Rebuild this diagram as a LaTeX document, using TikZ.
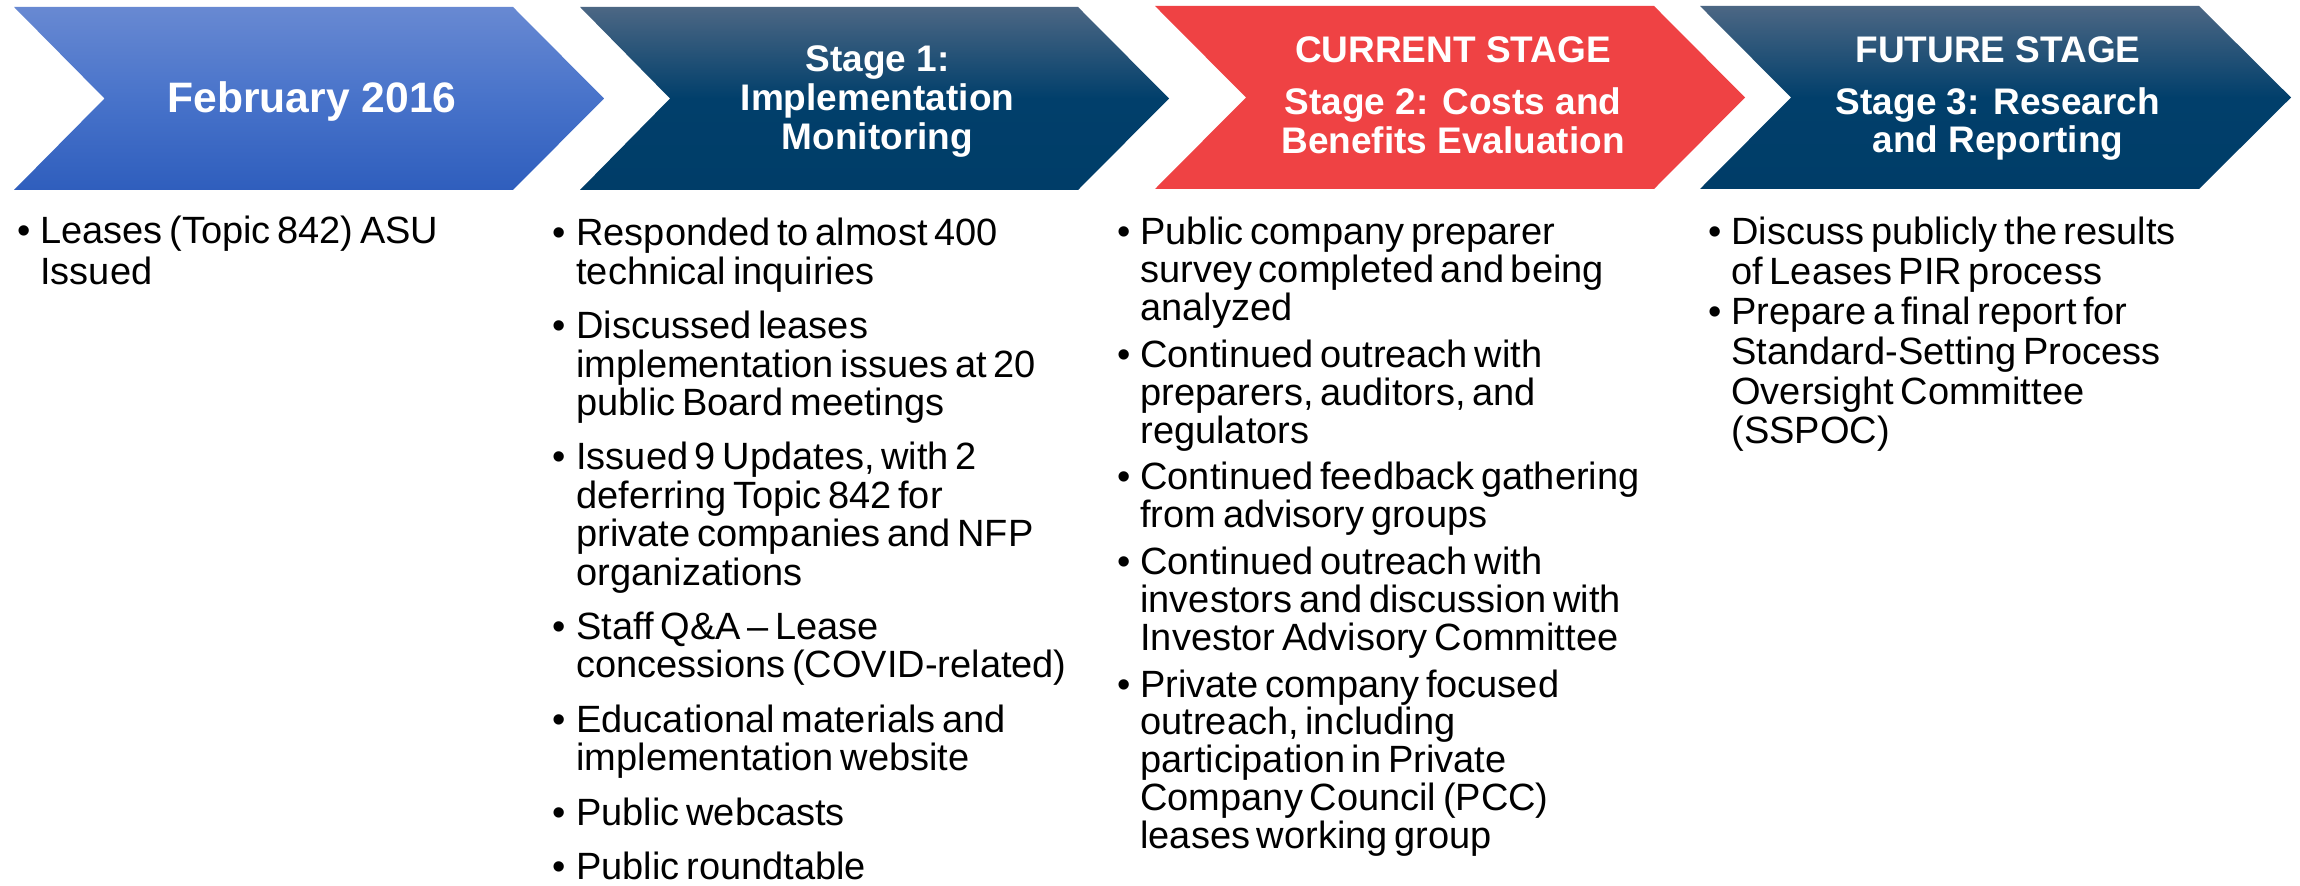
\documentclass[tikz,border=0pt]{standalone}
\usepackage{fontspec}
\setmainfont{Liberation Sans}
\definecolor{blueTop}{HTML}{6889D2}
\definecolor{blueMid}{HTML}{4873CA}
\definecolor{blueBot}{HTML}{2F5EBD}
\definecolor{navyTop}{HTML}{4C6784}
\definecolor{navyMid}{HTML}{013F6B}
\definecolor{navyBot}{HTML}{003D68}
\definecolor{stageRed}{HTML}{EF4244}
\newlength\bind
\newcommand\bfirst[1]{\hangindent=\bind\hangafter=1\noindent\hbox to\bind{\textbullet\hfil}#1}
\newcommand\bitem[1]{\par\bfirst{#1}}
\tikzset{
  bluechev/.style={top color=blueTop, bottom color=blueBot, middle color=blueMid},
  navychev/.style={top color=navyTop, bottom color=navyBot, middle color=navyMid},
  redchev/.style={fill=stageRed},
  head/.style={anchor=base, text=white, inner sep=0pt, font=\bfseries\fontsize{18.5}{22}\selectfont},
  bigHead/.style={head, font=\bfseries\fontsize{21.3}{25}\selectfont},
  col/.style={anchor=base west, inner sep=0pt, text width=#1, align=left},
}
\begin{document}
\begin{tikzpicture}[x=0.5pt,y=-0.5pt]
\useasboundingbox (0,0) rectangle (2300,886);
\fill[white] (0,0) rectangle (2300,886);
% chevrons
\shade[bluechev] (14,7) -- (513,7) -- (604,98.5) -- (513,190) -- (14,190) -- (104.5,98.5) -- cycle;
\shade[navychev] (580,7) -- (1078,7) -- (1169,98.5) -- (1078,190) -- (580,190) -- (670,98.5) -- cycle;
\fill[redchev] (1155,6) -- (1654,6) -- (1745,97.5) -- (1654,189) -- (1155,189) -- (1246,97.5) -- cycle;
\shade[navychev] (1700,6) -- (2199,6) -- (2291,97.5) -- (2199,189) -- (1700,189) -- (1791,97.5) -- cycle;
% headings
\node[bigHead] (h1) at (312,113) {February 2016};
\node[head] (h2a) at (877.5,72) {Stage 1:};
\node[head] (h2b) at (877.5,111) {Implementation};
\node[head] (h2c) at (877.5,150) {Monitoring};
\node[head] (h3a) at (1453,63) {CURRENT STAGE};
\node[head] (h3b) at (1453,115) {Stage 2: Costs and};
\node[head] (h3c) at (1453,154) {Benefits Evaluation};
\node[head] (h4a) at (1998,63) {FUTURE STAGE};
\node[head] (h4b) at (1998,115) {Stage 3: Research};
\node[head] (h4c) at (1998,153) {and Reporting};
% bullet columns
\node[col=230pt] (c1) at (17.5,244) {\fontsize{19}{20.5}\selectfont\setlength\bind{11.25pt}%
\bfirst{Leases (Topic 842) ASU\newline Issued}\par};
\node[col=270pt] (c2) at (552,246) {\fontsize{19}{19.2}\selectfont\setlength\bind{12pt}\setlength\parskip{8pt}%
\bfirst{Responded to almost 400\newline technical inquiries}%
\bitem{Discussed leases\newline implementation issues at 20\newline public Board meetings}%
\bitem{Issued 9 Updates, with 2\newline deferring Topic 842 for\newline private companies and NFP\newline organizations}%
\bitem{Staff Q\&A -- Lease\newline concessions (COVID-related)}%
\bitem{Educational materials and\newline implementation website}%
\bitem{Public webcasts}%
\bitem{Public roundtable}\par};
\node[col=280pt] (c3) at (1117.5,245) {\fontsize{19}{18.95}\selectfont\setlength\bind{11.25pt}\setlength\parskip{4.4pt}%
\bfirst{Public company preparer\newline survey completed and being\newline analyzed}%
\bitem{Continued outreach with\newline preparers, auditors, and\newline regulators}%
\bitem{Continued feedback gathering\newline from advisory groups}%
\bitem{Continued outreach with\newline investors and discussion with\newline Investor Advisory Committee}%
\bitem{Private company focused\newline outreach, including\newline participation in Private\newline Company Council (PCC)\newline leases working group}\par};
\node[col=260pt] (c4) at (1708,245) {\fontsize{19}{19.9}\selectfont\setlength\bind{11.5pt}%
\bfirst{Discuss publicly the results\newline of Leases PIR process}%
\bitem{Prepare a final report for\newline Standard-Setting Process\newline Oversight Committee\newline (SSPOC)}\par};
\end{tikzpicture}
\end{document}
